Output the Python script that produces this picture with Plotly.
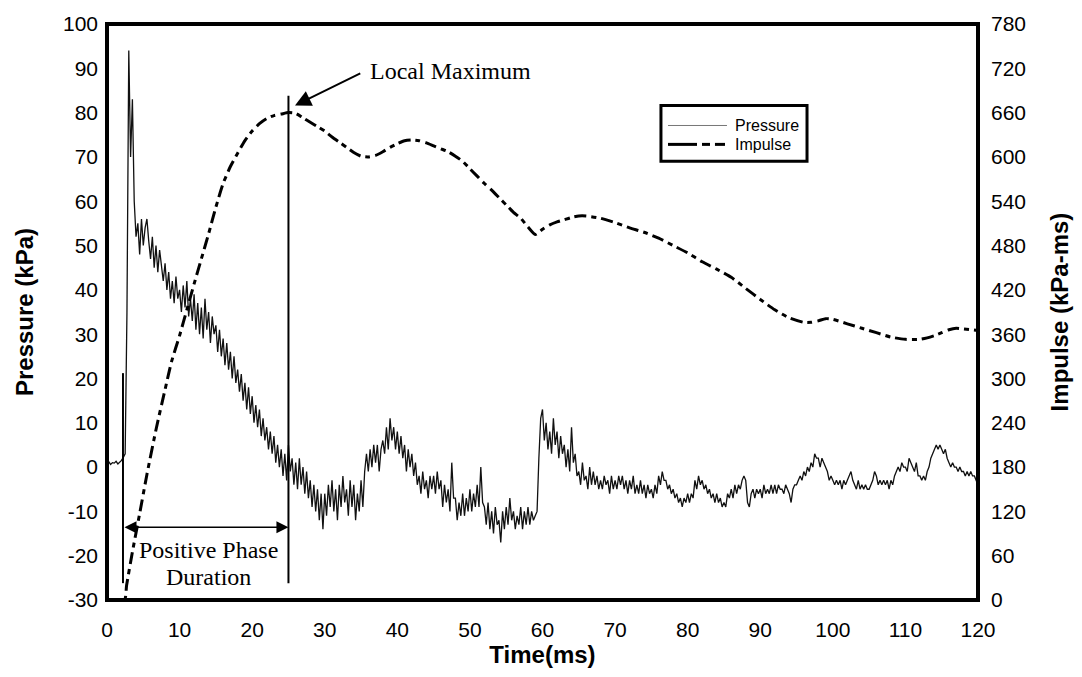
import plotly.graph_objects as go

# ---------------- data ----------------
# Pressure trace, sampled every 0.25 ms from 0 ms to 120 ms (kPa)
PRESSURE_STEP_MS = 0.25
pressure_kpa = [
    0.8, 1.2, 0.6, 1.0,        # 0
    0.9, 1.3, 0.7, 1.1,        # 1
    1.5, 2.2, 3.0, 35,         # 2
    94, 70, 83, 60,            # 3
    52, 55, 48, 56,            # 4
    50, 54, 56, 51,            # 5
    47, 52, 45, 50,            # 6
    44, 49, 46, 42,            # 7
    46, 40, 44, 38,            # 8
    42, 37, 43, 38,            # 9
    40, 35, 41, 36,            # 10
    42, 34, 38, 33,            # 11
    39, 31, 37, 30,            # 12
    36, 29, 38, 31,            # 13
    35, 28, 34, 30,            # 14
    32, 26, 31, 25,            # 15
    29, 23, 28, 22,            # 16
    26, 20, 25, 19,            # 17
    22, 17, 21, 15,            # 18
    19, 13, 18, 12,            # 19
    16, 10, 14, 9,             # 20
    13, 7, 11, 6,              # 21
    9, 4, 8, 3,                # 22
    7, 1, 5, 0,                # 23
    4, -2, 3, -3,              # 24
    5, -1, 2, -4,              # 25
    1, -5, 2, -4,              # 26
    0, -6, -1, -7,             # 27
    -3, -9, -4, -10,           # 28
    -5, -12, -6, -14,          # 29
    -6, -11, -4, -9,           # 30
    -3, -10, -5, -12,          # 31
    -4, -9, -2, -8,            # 32
    -5, -11, -3, -9,           # 33
    -4, -12, -6, -10,          # 34
    -3, -9, -1, 3,             # 35
    -1, 4, 0, 5,               # 36
    1, 5, -1, 4,               # 37
    6, 3, 9, 4,                # 38
    11, 6, 9, 4,               # 39
    8, 3, 7, 2,                # 40
    5, -1, 4, 0,               # 41
    3, -2, 1, -4,              # 42
    -2, -6, -1, -5,            # 43
    -3, -7, -2, -5,            # 44
    -2, -6, -1, -5,            # 45
    -3, -9, -4, -8,            # 46
    -5, -10, 1, -7,            # 47
    -7, -12, -8, -11,          # 48
    -6, -11, -7, -10,          # 49
    -5, -10, -6, -9,           # 50
    -4, -9, 0, -8,             # 51
    -9, -13, -8, -14,          # 52
    -10, -15, -9, -13,         # 53
    -12, -17, -10, -14,        # 54
    -9, -13, -7, -12,          # 55
    -10, -14, -11, -13,        # 56
    -9, -14, -10, -13,         # 57
    -9, -13, -10, -12,         # 58
    -11, -10, 2, 11,           # 59
    13, 6, 10, 4,              # 60
    8, 3, 11, 5,               # 61
    8, 2, 7, 3,                # 62
    5, 0, 4, -1,               # 63
    9, 1, 3, -2,               # 64
    -1, -4, 1, -3,             # 65
    -2, -5, 0, -4,             # 66
    -1, -4, -2, -5,            # 67
    -3, -5, -2, -4,            # 68
    -3, -6, -2, -5,            # 69
    -3, -5, -2, -4,            # 70
    -2, -5, -3, -6,            # 71
    -3, -5, -2, -6,            # 72
    -4, -6, -3, -6,            # 73
    -4, -7, -4, -6,            # 74
    -5, -7, -4, -6,            # 75
    -2, -4, -1, -3,            # 76
    -3, -5, -4, -6,            # 77
    -5, -7, -6, -8,            # 78
    -7, -9, -7, -8,            # 79
    -6, -8, -6, -7,            # 80
    -3, -5, -2, -4,            # 81
    -3, -5, -4, -6,            # 82
    -5, -7, -6, -8,            # 83
    -6, -8, -7, -9,            # 84
    -8, -9, -6, -7,            # 85
    -5, -7, -4, -6,            # 86
    -4, -5, -3, -2,            # 87
    -3, -8, -9, -6,            # 88
    -5, -7, -5, -6,            # 89
    -5, -7, -4, -6,            # 90
    -5, -6, -4, -6,            # 91
    -4, -6, -4, -5,            # 92
    -5, -6, -4, -5,            # 93
    -6, -8, -5, -4,            # 94
    -4, -3, -2, -3,            # 95
    -1, -2, 0, -1,             # 96
    1, 0, 3, 2,                # 97
    2, 0, 2, 1,                # 98
    0, -1, -3, -2,             # 99
    -3, -4, -3, -4,            # 100
    -3, -5, -3, -4,            # 101
    -3, -2, -1, -3,            # 102
    -4, -5, -3, -5,            # 103
    -4, -5, -4, -5,            # 104
    -5, -4, -3, -1,            # 105
    -2, -4, -3, -4,            # 106
    -3, -4, -3, -5,            # 107
    -3, -4, -2, -1,            # 108
    0, -1, 1, 0,               # 109
    0, -1, 2, 1,               # 110
    0, -1, 1, -2,              # 111
    -2, -3, -2, -3,            # 112
    -1, 0, 2, 3,               # 113
    4, 5, 4, 5,                # 114
    4, 3, 4, 2,                # 115
    1, 0, 1, 0,                # 116
    0, -1, 0, -1,              # 117
    -1, -2, -1, -2,            # 118
    -1, -2, -2, -3,            # 119
    -2.5,                      # 120
]
pressure_time_ms = [i * PRESSURE_STEP_MS for i in range(len(pressure_kpa))]

# Impulse curve (kPa-ms)
impulse_time_ms = [0, 2.4, 2.7, 3.5, 4.5, 5.5, 6.8, 8, 8.9, 10, 11, 12, 13, 14, 15,
                   16, 17, 18, 19, 20, 21, 22, 23, 24, 25, 26, 27, 28, 29, 30,
                   31, 32, 33, 34, 35, 36, 37, 38, 39, 40, 41, 42, 43, 44, 45,
                   46, 47, 48, 49, 50, 51, 52, 53, 54, 55, 56, 57, 58, 59, 60,
                   61, 62, 63, 64, 65, 66, 68, 70, 72, 74, 76, 78, 80, 82, 84,
                   86, 88, 90, 92, 94, 96, 97, 98, 99, 100, 102, 104, 106, 108,
                   110, 112, 113, 114, 115, 116, 117, 118, 120]
impulse_kpams = [0, 0, 20, 65, 117, 170, 233, 285, 323, 358, 393, 428, 462, 496, 532,
                 564, 587, 605, 622, 635, 645, 652, 656, 658, 660, 659, 653, 647, 641, 635,
                 627, 620, 613, 606, 601, 600, 602, 607, 613, 618, 622, 623, 622, 619, 615,
                 611, 607, 601, 594, 584, 574, 564, 555, 545, 535, 525, 517, 505, 495, 502,
                 508, 512, 515, 518, 520, 520, 517, 511, 504, 498, 490, 480, 470, 458, 448,
                 437, 422, 407, 393, 382, 376, 376, 378, 381, 380, 374, 368, 362, 356,
                 353, 353, 355, 358, 362, 366, 368, 367, 365]

x_ticks = list(range(0, 121, 10))
y_ticks = list(range(-30, 101, 10))
y_tick_labels = [str(v) for v in y_ticks]          # plain hyphen minus
y2_ticks = list(range(0, 781, 60))

series_names = ["Pressure", "Impulse"]

# annotation positions (data units)
local_max_head = (25.9, 81.6)
local_max_tail = (35.1, 89.0)
local_max_label = (36.0, 89.4)
ppd_start, ppd_end, ppd_level = 2.2, 25.0, -13.6
ppd_label_x = 14.05
ppd_label_rows = [("Positive Phase", -18.8), ("Duration", -24.8)]
line_bottom = -26.2
left_line_top = 21.2
right_line_top = 83.8

SANS = "Arial, Liberation Sans, sans-serif"
SERIF = "Times New Roman, Liberation Serif, serif"
IMPULSE_DASH = "12px,5px,5px,5px"

fig = go.Figure()
fig.add_trace(go.Scatter(
    x=pressure_time_ms, y=pressure_kpa, mode="lines", name=series_names[0],
    line=dict(color="#111111", width=1.3), yaxis="y"))
fig.add_trace(go.Scatter(
    x=impulse_time_ms, y=impulse_kpams, mode="lines", name=series_names[1],
    line=dict(color="black", width=3, dash=IMPULSE_DASH, shape="spline",
              smoothing=0.6),
    yaxis="y2"))

fig.update_layout(
    width=1082, height=677,
    margin=dict(l=107, r=104, t=21, b=77),
    paper_bgcolor="white", plot_bgcolor="white",
    font=dict(family=SANS, color="black", size=21),
    showlegend=False,
    xaxis=dict(range=[0, 120], tickvals=x_ticks, showgrid=False, zeroline=False,
               showline=False, ticks="", ticklabelstandoff=15,
               tickfont=dict(size=21),
               title=dict(text="<b>Time(ms)</b>", font=dict(size=24), standoff=4)),
    yaxis=dict(range=[-30, 100], tickvals=y_ticks, ticktext=y_tick_labels,
               showgrid=False, zeroline=False,
               showline=False, ticks="", ticklabelstandoff=8,
               tickfont=dict(size=21),
               title=dict(text="<b>Pressure (kPa)</b>", font=dict(size=24), standoff=22)),
    yaxis2=dict(range=[0, 780], tickvals=y2_ticks, overlaying="y", side="right",
                showgrid=False, zeroline=False, showline=False, ticks="",
                ticklabelstandoff=12, tickfont=dict(size=21),
                title=dict(text="<b>Impulse (kPa-ms)</b>", font=dict(size=24), standoff=26)),
)

# frame and marker lines
fig.add_shape(type="rect", xref="paper", yref="paper", x0=0, x1=1, y0=0, y1=1,
              line=dict(color="black", width=4))
fig.add_shape(type="line", xref="x", yref="y", x0=ppd_end, x1=ppd_end,
              y0=line_bottom, y1=right_line_top, line=dict(color="black", width=2))
fig.add_shape(type="line", xref="x", yref="y", x0=ppd_start, x1=ppd_start,
              y0=line_bottom, y1=left_line_top, line=dict(color="black", width=2))

# legend box (drawn in paper units so the sample lines match the original)
leg_x0, leg_x1, leg_y0, leg_y1 = 0.636, 0.8037, 0.7617, 0.8584
leg_line_x0, leg_line_x1 = 0.6441, 0.7118
leg_rows_y = [0.8238, 0.7910]
leg_text_x = 0.7185
fig.add_shape(type="rect", xref="paper", yref="paper", x0=leg_x0, x1=leg_x1,
              y0=leg_y0, y1=leg_y1, line=dict(color="black", width=3),
              fillcolor="white", layer="above")
fig.add_shape(type="line", xref="paper", yref="paper", x0=leg_line_x0, x1=leg_line_x1,
              y0=leg_rows_y[0], y1=leg_rows_y[0], line=dict(color="#777777", width=1))
# impulse sample: long solid stroke then two short dashes
imp_segments = [(0.6441, 0.6774), (0.6831, 0.6923), (0.6980, 0.7095)]
for sx0, sx1 in imp_segments:
    fig.add_shape(type="line", xref="paper", yref="paper", x0=sx0, x1=sx1,
                  y0=leg_rows_y[1], y1=leg_rows_y[1], line=dict(color="black", width=3))
for name, ry in zip(series_names, leg_rows_y):
    fig.add_annotation(x=leg_text_x, y=ry, xref="paper", yref="paper", text=name,
                       showarrow=False, xanchor="left", yanchor="middle",
                       font=dict(family=SANS, size=16, color="black"))

# Local maximum arrow + label
fig.add_annotation(x=local_max_head[0], y=local_max_head[1], xref="x", yref="y",
                   ax=local_max_tail[0], ay=local_max_tail[1], axref="x", ayref="y",
                   text="", showarrow=True, arrowhead=2, arrowsize=1.6,
                   arrowwidth=2, arrowcolor="black")
fig.add_annotation(x=local_max_label[0], y=local_max_label[1], xref="x", yref="y",
                   text="Local Maximum", showarrow=False, xanchor="left",
                   yanchor="middle", font=dict(family=SERIF, size=24, color="black"))

# Positive phase duration double arrow + label
fig.add_annotation(x=ppd_end, y=ppd_level, xref="x", yref="y",
                   ax=ppd_start, ay=ppd_level, axref="x", ayref="y",
                   text="", showarrow=True, arrowside="end+start",
                   arrowhead=2, arrowsize=1.6, startarrowhead=2, startarrowsize=1.6,
                   arrowwidth=1.5, arrowcolor="black")
for row_text, row_y in ppd_label_rows:
    fig.add_annotation(x=ppd_label_x, y=row_y, xref="x", yref="y",
                       text=row_text, showarrow=False,
                       xanchor="center", yanchor="middle",
                       font=dict(family=SERIF, size=24, color="black"))

fig.write_html("out.html")
